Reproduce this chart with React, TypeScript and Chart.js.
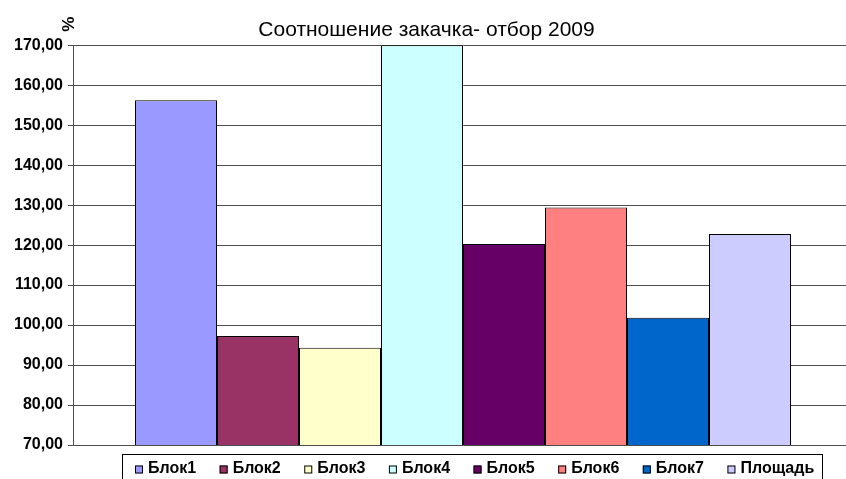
import React, { useEffect, useRef } from "react";
import { Chart, registerables } from "chart.js";

Chart.register(...registerables);

const categories = [""];
const seriesNames = ["Блок1", "Блок2", "Блок3", "Блок4", "Блок5", "Блок6", "Блок7", "Площадь"];
const seriesValues = [156.25, 97.25, 94.3, 170, 120.25, 129.4, 101.8, 122.75];
const seriesColors = ["#9999FF", "#993366", "#FFFFCC", "#CCFFFF", "#660066", "#FF8080", "#0066CC", "#CCCCFF"];
const titleText = "Соотношение закачка- отбор 2009";
const yAxisLabel = "%";
const yMin = 70;
const yMax = 170;
const yStep = 10;

const FONT = "Arial, 'Liberation Sans', sans-serif";

const extrasPlugin = {
  id: "extras",
  afterDraw(chart: any) {
    const ctx = chart.ctx;
    const area = chart.chartArea;
    // rotated "%" label above the y axis
    ctx.save();
    ctx.font = `bold 17px ${FONT}`;
    ctx.fillStyle = "#000";
    ctx.translate(area.left - 4, area.top - 21);
    ctx.rotate(-Math.PI / 2);
    ctx.textAlign = "center";
    ctx.textBaseline = "middle";
    ctx.fillText(yAxisLabel, 0, 0);
    ctx.restore();

    // legend
    ctx.save();
    ctx.font = `bold 16px ${FONT}`;
    const boxLeft = 122.5;
    const boxTop = area.bottom + 9.5;
    const boxRight = 822.5;
    ctx.strokeStyle = "#000";
    ctx.lineWidth = 1;
    ctx.strokeRect(boxLeft, boxTop, boxRight - boxLeft, 40);
    let x = 135;
    const midY = boxTop + 14;
    chart.data.datasets.forEach((ds: any) => {
      ctx.fillStyle = ds.backgroundColor;
      ctx.fillRect(x, midY - 3, 8, 8);
      ctx.strokeStyle = "#000";
      ctx.strokeRect(x + 0.5, midY - 2.5, 7, 7);
      ctx.fillStyle = "#000";
      ctx.textAlign = "left";
      ctx.textBaseline = "middle";
      ctx.fillText(ds.label, x + 13, midY);
      x += 13 + ctx.measureText(ds.label).width + 23.5;
    });
    ctx.restore();
  },
};

export default function App() {
  const ref = useRef<HTMLCanvasElement | null>(null);

  useEffect(() => {
    if (!ref.current) return;
    const chart = new Chart(ref.current, {
      type: "bar",
      data: {
        labels: categories,
        datasets: seriesNames.map((name, i) => ({
          label: name,
          data: [seriesValues[i]],
          backgroundColor: seriesColors[i],
          borderColor: "#000000",
          borderWidth: 1,
          borderSkipped: false,
          categoryPercentage: 656 / 780,
          barPercentage: 1,
        })),
      },
      options: {
        responsive: false,
        animation: false,
        layout: { padding: { left: 0, right: 7, top: 0, bottom: 34 } },
        plugins: {
          legend: { display: false },
          tooltip: { enabled: false },
          title: {
            display: true,
            text: titleText,
            color: "#000",
            font: { family: FONT, size: 21, weight: "normal" },
            padding: { top: 18, bottom: 2 },
          },
        },
        scales: {
          x: { display: false },
          y: {
            min: yMin,
            max: yMax,
            afterFit(scale: any) {
              scale.width = 73;
            },
            ticks: {
              stepSize: yStep,
              color: "#000",
              padding: 5,
              font: { family: FONT, size: 16, weight: "bold" },
              callback: (v: any) => Number(v).toFixed(2).replace(".", ","),
            },
            grid: { color: "#4d4d4d", lineWidth: 1, tickLength: 5, drawTicks: true },
            border: { color: "#4d4d4d", width: 1 },
          },
        },
      },
      plugins: [extrasPlugin],
    });
    return () => chart.destroy();
  }, []);

  return (
    <div style={{ position: "absolute", left: 0, top: 0, width: 846, height: 479, overflow: "hidden", background: "#fff" }}>
      <canvas ref={ref} width={860} height={479} style={{ width: 860, height: 479, display: "block" }} />
    </div>
  );
}
